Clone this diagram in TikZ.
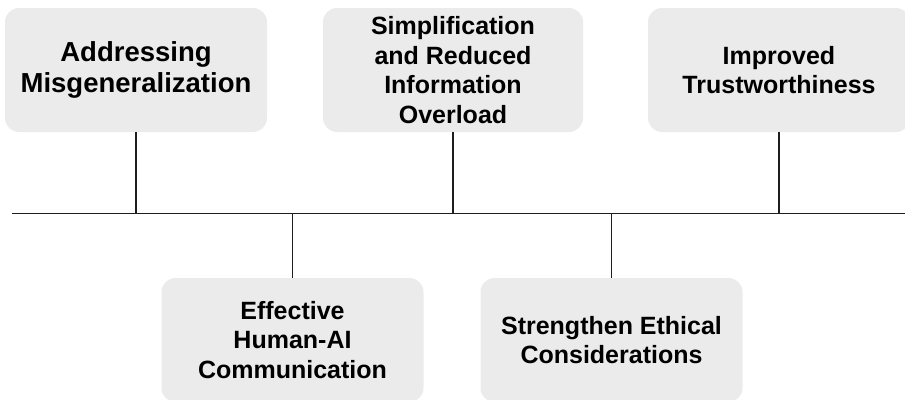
\documentclass[tikz,border=0pt]{standalone}
\usepackage{fontspec}
\setmainfont{Liberation Sans}
\definecolor{boxgray}{HTML}{EBEBEB}
\definecolor{linegray}{HTML}{1E1E1E}
\tikzset{
  card/.style={rectangle, rounded corners=14pt, fill=boxgray, draw=none,
    minimum width=262pt, minimum height=124pt, align=center, inner sep=0pt,
    font=\bfseries\fontsize{25}{29.5}\selectfont, text=black},
  bigcard/.style={card, font=\bfseries\fontsize{27.5}{31.5}\selectfont},
  link/.style={draw=linegray, line width=1.6pt}
}
\begin{document}
\begin{tikzpicture}[x=1pt, y=-1pt]
  \useasboundingbox (0,0) rectangle (905,399);
  \clip (0,0) rectangle (905,399);
  % timeline axis
  \coordinate (axisL) at (12,213.5);
  \coordinate (axisR) at (905,213.5);
  % cards above the axis
  \node[bigcard] (b1) at (136,70) {Addressing\\Misgeneralization};
  \node[card, minimum width=260pt] (b2) at (453,70) {Simplification\\and Reduced\\Information\\Overload};
  \node[card] (b3) at (779,70) {Improved\\Trustworthiness};
  % cards below the axis
  \node[card] (b4) at (292.5,340) {Effective\\Human-AI\\Communication};
  \node[card] (b5) at (611.5,340) {Strengthen Ethical\\Considerations};
  % axis and stems
  \draw[link] (axisL) -- (axisR);
  \foreach \b in {b1,b2,b3}
    \draw[link] (\b.south) -- (\b.south |- axisL);
  \foreach \b in {b4,b5}
    \draw[link] (\b.north) -- (\b.north |- axisL);
\end{tikzpicture}
\end{document}
